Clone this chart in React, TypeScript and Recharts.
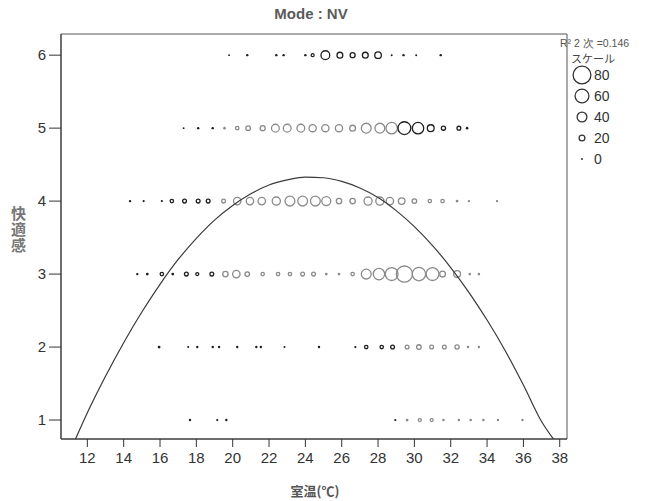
import React from 'react';
import { ReferenceArea, Scatter, ScatterChart, XAxis, YAxis } from 'recharts';

// [室温, 度数] per comfort level; dark / gray groups as printed
const dark6 = [[19.8, 0], [20.8, 3], [22.4, 3], [22.8, 3], [24.0, 3], [24.4, 6], [25.1, 35], [25.9, 20], [26.6, 16], [27.3, 20], [28.0, 24], [28.75, 1], [29.4, 3], [30.1, 1], [31.45, 3]];
const dark5 = [[17.3, 0], [18.1, 3], [18.9, 3], [29.45, 55], [30.2, 48], [30.9, 25], [31.6, 12], [32.45, 10], [32.9, 4]];
const gray5 = [[19.55, 4], [20.25, 8], [20.85, 14], [21.65, 16], [22.35, 30], [23.0, 30], [23.75, 30], [24.4, 27], [25.1, 27], [25.85, 27], [26.6, 20], [27.35, 40], [28.1, 40], [28.75, 48]];
const dark4 = [[14.35, 3], [15.1, 2], [16.1, 2], [16.65, 8], [17.35, 10], [18.1, 10], [18.65, 10]];
const gray4 = [[19.5, 10], [20.25, 28], [20.95, 28], [21.6, 28], [22.4, 32], [23.15, 40], [23.85, 40], [24.55, 40], [25.15, 36], [25.85, 18], [26.6, 18], [27.45, 32], [28.1, 32], [28.65, 28], [29.3, 24], [30.0, 14], [30.85, 8], [31.55, 8], [32.35, 5], [33.0, 3], [34.55, 3]];
const dark3 = [[14.75, 3], [15.3, 5], [16.1, 8], [16.7, 5], [17.45, 10], [18.05, 6], [18.85, 10]];
const gray3 = [[19.6, 18], [20.2, 28], [20.8, 14], [21.65, 8], [22.5, 8], [23.15, 8], [23.85, 10], [24.45, 10], [25.15, 5], [25.85, 5], [26.6, 8], [27.35, 40], [28.05, 48], [28.75, 55], [29.45, 72], [30.25, 58], [31.0, 55], [31.55, 20], [32.35, 25], [33.05, 4], [33.55, 4]];
const dark2 = [[15.95, 5], [17.55, 1], [18.05, 3], [18.9, 3], [19.25, 3], [20.25, 3], [21.3, 3], [21.55, 3], [22.85, 1], [24.75, 3], [26.75, 2], [27.35, 8], [28.2, 8], [28.8, 10]];
const gray2 = [[29.6, 10], [30.25, 14], [30.95, 10], [31.65, 10], [32.35, 12], [32.95, 3], [33.55, 3]];
const dark1 = [[17.65, 3], [19.15, 2], [19.65, 3], [28.95, 2]];
const gray1 = [[29.6, 5], [30.3, 6], [30.95, 6], [31.6, 4], [32.45, 4], [33.1, 4], [33.8, 4], [34.6, 3], [35.95, 3]];

// 2次 fit curve
const curveT = [11.35, 12, 13, 14, 15, 16, 17, 18, 19, 20, 21, 22, 23, 24, 25, 26, 27, 28, 29, 30, 31, 32, 33, 34, 35, 36, 37, 37.65];
const curveY = [0.74, 1.1, 1.6, 2.06, 2.48, 2.86, 3.2, 3.49, 3.74, 3.94, 4.1, 4.22, 4.29, 4.33, 4.32, 4.27, 4.18, 4.05, 3.87, 3.65, 3.39, 3.09, 2.75, 2.37, 1.95, 1.48, 0.98, 0.74];

const xTicks = [12, 14, 16, 18, 20, 22, 24, 26, 28, 30, 32, 34, 36, 38];
const yTicks = [1, 2, 3, 4, 5, 6];
const scaleCounts = [80, 60, 40, 20, 0];

const X_DOMAIN = [10.55, 38.4];
const Y_DOMAIN = [0.74, 6.29];

const toPoints = (rows: number[][], level: number) => rows.map(([t, z]) => ({ t, y: level, z }));

const darkData = [
  ...toPoints(dark6, 6), ...toPoints(dark5, 5), ...toPoints(dark4, 4),
  ...toPoints(dark3, 3), ...toPoints(dark2, 2), ...toPoints(dark1, 1),
];
const grayData = [
  ...toPoints(gray5, 5), ...toPoints(gray4, 4), ...toPoints(gray3, 3),
  ...toPoints(gray2, 2), ...toPoints(gray1, 1),
];
const curveData = curveT.map((t, i) => ({ t, y: curveY[i] }));

const radius = (z: number) => 0.9 + 0.1 * z;

const bubble = (color: string) => (props: any) => {
  const { cx, cy, payload } = props;
  const r = radius(payload.z);
  if (payload.z <= 5) return <circle cx={cx} cy={cy} r={r} fill={color} />;
  return <circle cx={cx} cy={cy} r={r} fill="none" stroke={color} strokeWidth={1.3} />;
};

const tickStyle = { fontSize: 15, fill: '#333', fontFamily: 'Liberation Sans, Arial, sans-serif' };

export default function App() {
  return (
    <div
      style={{
        position: 'absolute',
        left: 0,
        top: 0,
        width: 645,
        height: 501,
        background: '#fff',
        fontFamily: 'Liberation Sans, Arial, sans-serif',
      }}
    >
      <div
        style={{
          position: 'absolute',
          left: 0,
          width: 622,
          top: 5,
          textAlign: 'center',
          fontSize: 15,
          fontWeight: 'bold',
          color: '#5a5a5a',
        }}
      >
        Mode : NV
      </div>

      <ScatterChart width={645} height={501} margin={{ top: 34, right: 78, bottom: 22, left: 11 }}>
        <XAxis
          type="number"
          dataKey="t"
          domain={X_DOMAIN}
          ticks={xTicks}
          allowDataOverflow
          height={40}
          tickSize={8}
          tickMargin={5}
          stroke="#333"
          tick={tickStyle}
        />
        <YAxis
          type="number"
          dataKey="y"
          domain={Y_DOMAIN}
          ticks={yTicks}
          allowDataOverflow
          width={50}
          tickSize={12}
          tickMargin={3}
          stroke="#333"
          tick={tickStyle}
        />
        <ReferenceArea
          x1={X_DOMAIN[0]}
          x2={X_DOMAIN[1]}
          y1={Y_DOMAIN[0]}
          y2={Y_DOMAIN[1]}
          fill="none"
          stroke="#555"
          strokeWidth={1}
        />
        <Scatter data={grayData} shape={bubble('#8a8a8a')} isAnimationActive={false} />
        <Scatter data={darkData} shape={bubble('#1e1e1e')} isAnimationActive={false} />
        <Scatter
          data={curveData}
          shape={(p: any) => <circle cx={p.cx} cy={p.cy} r={0} />}
          line={{ stroke: '#3a3a3a', strokeWidth: 1.2 }}
          lineJointType="monotoneX"
          isAnimationActive={false}
        />
      </ScatterChart>

      <div
        style={{
          position: 'absolute',
          left: 8,
          top: 206,
          writingMode: 'vertical-rl',
          fontFamily: 'Noto Sans CJK JP',
          fontSize: 15,
          fontWeight: 'bold',
          color: '#777',
          letterSpacing: 1,
        }}
      >
        快適感
      </div>

      <div
        style={{
          position: 'absolute',
          left: 0,
          width: 630,
          top: 481,
          textAlign: 'center',
          fontFamily: 'Noto Sans CJK JP',
          fontSize: 13,
          fontWeight: 'bold',
          color: '#555',
        }}
      >
        室温(℃)
      </div>

      <div style={{ position: 'absolute', left: 560, top: 37, fontSize: 10.5, color: '#555', whiteSpace: 'nowrap' }}>
        R² 2 次 =0.146
      </div>
      <div style={{ position: 'absolute', left: 571, top: 50, fontSize: 11, color: '#444', fontFamily: 'Noto Sans CJK JP' }}>
        スケール
      </div>
      <svg style={{ position: 'absolute', left: 560, top: 62 }} width={85} height={110}>
        {scaleCounts.map((c, i) => (
          <g key={c}>
            {c === 0 ? (
              <circle cx={22} cy={13 + i * 21} r={radius(c)} fill="#222" />
            ) : (
              <circle cx={22} cy={13 + i * 21} r={radius(c)} fill="none" stroke="#333" strokeWidth={1.3} />
            )}
            <text x={34} y={13 + i * 21 + 5} fontSize={14} fill="#333">
              {c}
            </text>
          </g>
        ))}
      </svg>
    </div>
  );
}
